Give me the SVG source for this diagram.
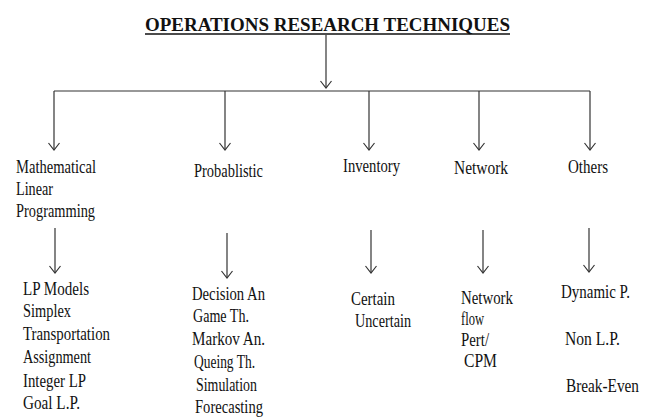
<svg xmlns="http://www.w3.org/2000/svg" width="666" height="418" viewBox="0 0 666 418">
<style>
text{font-family:"Liberation Serif","Times New Roman","DejaVu Serif",serif;font-size:18px;fill:#111}
.title{font-size:19px;font-weight:bold}
.ln{stroke:#333;stroke-width:1.2;fill:none}
.ar{stroke:#333;stroke-width:1.2;fill:none;marker-end:url(#arr)}
</style>
<defs>
<marker id="arr" viewBox="-8 -6 10 12" refX="0" refY="0" markerWidth="10" markerHeight="12" markerUnits="userSpaceOnUse" orient="auto">
<path d="M-7,-5.5 L0,0 L-7,5.5" fill="none" stroke="#333" stroke-width="1.2"/>
</marker>
</defs>
<rect width="666" height="418" fill="#fff"/>
<g id="title">
<text class="title" x="145" y="31" textLength="365" lengthAdjust="spacingAndGlyphs">OPERATIONS RESEARCH TECHNIQUES</text>
<line x1="145" y1="34" x2="510" y2="34" stroke="#111" stroke-width="1.6"/>
</g>
<g id="connectors">
<line class="ar" x1="326" y1="35" x2="326" y2="88"/>
<polyline class="ln" points="54,91 590,91"/>
<line class="ar" x1="54" y1="91" x2="54" y2="150"/>
<line class="ar" x1="225" y1="91" x2="225" y2="150"/>
<line class="ar" x1="369" y1="91" x2="369" y2="150"/>
<line class="ar" x1="479" y1="91" x2="479" y2="150"/>
<line class="ar" x1="590" y1="91" x2="590" y2="150"/>
<line class="ar" x1="55" y1="228" x2="55" y2="273"/>
<line class="ar" x1="227" y1="233" x2="227" y2="278"/>
<line class="ar" x1="371" y1="230" x2="371" y2="273"/>
<line class="ar" x1="483" y1="230" x2="483" y2="273"/>
<line class="ar" x1="589" y1="228" x2="589" y2="272"/>
</g>
<g id="mathematical">
<text x="16" y="173" textLength="80" lengthAdjust="spacingAndGlyphs">Mathematical</text>
<text x="16" y="195" textLength="37" lengthAdjust="spacingAndGlyphs">Linear</text>
<text x="16" y="217" textLength="79" lengthAdjust="spacingAndGlyphs">Programming</text>
</g>
<g id="probablistic">
<text x="194" y="177" textLength="69" lengthAdjust="spacingAndGlyphs">Probablistic</text>
</g>
<g id="inventory">
<text x="343" y="172" textLength="57" lengthAdjust="spacingAndGlyphs">Inventory</text>
</g>
<g id="network">
<text x="454" y="174" textLength="54" lengthAdjust="spacingAndGlyphs">Network</text>
</g>
<g id="others">
<text x="568" y="173" textLength="40" lengthAdjust="spacingAndGlyphs">Others</text>
</g>
<g id="lp-list">
<text x="23" y="295" textLength="66" lengthAdjust="spacingAndGlyphs">LP Models</text>
<text x="23" y="317" textLength="48" lengthAdjust="spacingAndGlyphs">Simplex</text>
<text x="23" y="340" textLength="87" lengthAdjust="spacingAndGlyphs">Transportation</text>
<text x="23" y="363" textLength="68" lengthAdjust="spacingAndGlyphs">Assignment</text>
<text x="23" y="387" textLength="63" lengthAdjust="spacingAndGlyphs">Integer LP</text>
<text x="23" y="409" textLength="57" lengthAdjust="spacingAndGlyphs">Goal L.P.</text>
</g>
<g id="prob-list">
<text x="192" y="300" textLength="73" lengthAdjust="spacingAndGlyphs">Decision An</text>
<text x="193" y="322" textLength="56" lengthAdjust="spacingAndGlyphs">Game Th.</text>
<text x="192" y="345" textLength="73" lengthAdjust="spacingAndGlyphs">Markov An.</text>
<text x="194" y="368" textLength="61" lengthAdjust="spacingAndGlyphs">Queing Th.</text>
<text x="196" y="391" textLength="61" lengthAdjust="spacingAndGlyphs">Simulation</text>
<text x="195" y="413" textLength="68" lengthAdjust="spacingAndGlyphs">Forecasting</text>
</g>
<g id="inventory-list">
<text x="351" y="305" textLength="44" lengthAdjust="spacingAndGlyphs">Certain</text>
<text x="355" y="327" textLength="56" lengthAdjust="spacingAndGlyphs">Uncertain</text>
</g>
<g id="network-list">
<text x="461" y="304" textLength="52" lengthAdjust="spacingAndGlyphs">Network</text>
<text x="461" y="325" textLength="23" lengthAdjust="spacingAndGlyphs">flow</text>
<text x="461" y="346" textLength="28" lengthAdjust="spacingAndGlyphs">Pert/</text>
<text x="464" y="367" textLength="33" lengthAdjust="spacingAndGlyphs">CPM</text>
</g>
<g id="others-list">
<text x="561" y="298" textLength="69" lengthAdjust="spacingAndGlyphs">Dynamic P.</text>
<text x="565" y="345" textLength="55" lengthAdjust="spacingAndGlyphs">Non L.P.</text>
<text x="566" y="392" textLength="73" lengthAdjust="spacingAndGlyphs">Break-Even</text>
</g>
</svg>
